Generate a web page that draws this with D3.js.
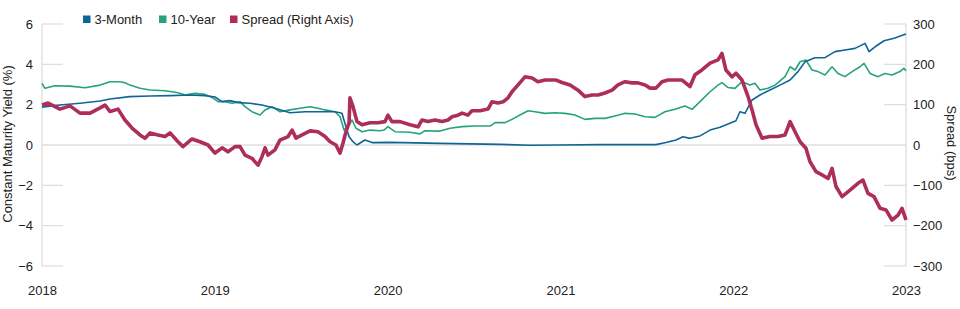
<!DOCTYPE html>
<html>
<head>
<meta charset="utf-8">
<script src="https://cdn.jsdelivr.net/npm/d3@7"></script>
<style>
  html, body { margin: 0; padding: 0; background: #fff; }
  svg { display: block; font-family: "Liberation Sans", Arial, Helvetica, sans-serif; }
</style>
</head>
<body>
<svg id="chart" width="960" height="309"></svg>
<script>
// ---- DATA (t = years since start of 2018) ----
const yearLabels = ["2018", "2019", "2020", "2021", "2022", "2023"];
const yieldTicks = [-6, -4, -2, 0, 2, 4, 6];
const spreadTicks = [-300, -200, -100, 0, 100, 200, 300];
const seriesNames = ["3-Month", "10-Year", "Spread (Right Axis)"];

// 3-Month constant maturity yield (%)
const threeMonth = [
  [0.000,1.88],[0.104,1.98],[0.220,2.07],[0.336,2.18],[0.394,2.28],[0.509,2.40],[0.625,2.43],
  [0.741,2.45],[0.856,2.48],[0.943,2.45],[1.001,2.38],[1.042,2.15],[1.088,2.20],[1.134,2.10],
  [1.204,2.07],[1.273,1.98],[1.348,1.82],[1.435,1.60],[1.522,1.65],[1.609,1.65],[1.696,1.65],
  [1.736,1.57],[1.759,0.91],[1.777,0.41],[1.800,0.16],[1.823,0.00],[1.852,0.16],[1.869,0.25],
  [1.910,0.12],[2.014,0.13],[2.303,0.08],[2.650,0.03],[2.824,-0.01],[2.998,0.00],[3.229,0.02],
  [3.553,0.02],[3.611,0.12],[3.669,0.25],[3.709,0.41],[3.750,0.33],[3.808,0.45],[3.866,0.74],
  [3.924,0.88],[3.981,1.08],[4.016,1.20],[4.039,1.65],[4.068,1.57],[4.109,2.23],[4.155,2.48],
  [4.213,2.73],[4.271,2.97],[4.329,3.22],[4.375,3.64],[4.416,4.13],[4.473,4.33],[4.531,4.33],
  [4.589,4.63],[4.647,4.71],[4.705,4.79],[4.763,5.04],[4.786,4.63],[4.821,4.87],[4.873,5.17],
  [4.931,5.29],[5.000,5.50]
];

// 10-Year constant maturity yield (%)
const tenYear = [
  [0.000,3.06],[0.017,2.81],[0.075,2.94],[0.162,2.92],[0.249,2.84],[0.336,2.97],[0.394,3.14],
  [0.451,3.14],[0.480,3.09],[0.509,2.97],[0.567,2.81],[0.625,2.73],[0.712,2.69],[0.787,2.59],
  [0.828,2.48],[0.885,2.56],[0.943,2.51],[0.984,2.36],[1.019,2.15],[1.059,2.15],[1.100,2.07],
  [1.146,2.15],[1.175,1.90],[1.215,1.65],[1.262,1.49],[1.291,1.74],[1.331,1.90],[1.377,1.65],
  [1.435,1.74],[1.493,1.82],[1.551,1.90],[1.597,1.82],[1.638,1.74],[1.696,1.65],[1.725,1.40],
  [1.748,0.74],[1.777,0.99],[1.794,1.24],[1.817,0.83],[1.852,0.66],[1.898,0.74],[1.956,0.71],
  [1.979,0.74],[2.002,0.91],[2.043,0.66],[2.130,0.63],[2.188,0.55],[2.216,0.71],[2.303,0.69],
  [2.361,0.83],[2.431,0.91],[2.506,0.94],[2.593,0.94],[2.622,1.11],[2.679,1.11],[2.720,1.27],
  [2.766,1.49],[2.813,1.70],[2.853,1.65],[2.911,1.57],[2.969,1.60],[3.027,1.57],[3.084,1.49],
  [3.142,1.27],[3.200,1.32],[3.258,1.32],[3.316,1.44],[3.374,1.57],[3.432,1.54],[3.490,1.40],
  [3.547,1.37],[3.605,1.65],[3.663,1.77],[3.721,1.93],[3.762,1.77],[3.808,2.15],[3.866,2.64],
  [3.912,2.97],[3.935,3.09],[3.970,2.85],[4.010,2.81],[4.051,3.14],[4.097,2.97],[4.126,3.06],
  [4.155,2.73],[4.201,2.81],[4.242,2.97],[4.300,3.39],[4.329,3.88],[4.358,3.72],[4.387,4.13],
  [4.421,4.21],[4.456,3.72],[4.491,3.64],[4.531,3.47],[4.572,3.88],[4.606,3.55],[4.647,3.39],
  [4.688,3.64],[4.734,3.88],[4.757,4.05],[4.792,3.55],[4.838,3.39],[4.878,3.55],[4.919,3.47],
  [4.965,3.64],[4.988,3.80],[5.000,3.68]
];

// Spread, 10-Year minus 3-Month (bps), right axis
const spreadBps = [
  [0.000,99],[0.035,104],[0.104,89],[0.162,97],[0.220,79],[0.278,79],[0.336,92],[0.365,99],
  [0.394,83],[0.440,89],[0.480,62],[0.521,42],[0.567,25],[0.596,17],[0.625,30],[0.671,25],
  [0.712,21],[0.741,30],[0.787,8],[0.816,-4],[0.868,15],[0.914,8],[0.961,0],[1.001,-20],
  [1.042,-7],[1.076,-17],[1.117,-4],[1.146,-4],[1.175,-25],[1.215,-33],[1.250,-50],[1.273,-29],
  [1.291,-7],[1.308,-25],[1.348,-12],[1.377,12],[1.424,21],[1.447,37],[1.470,17],[1.505,25],
  [1.551,35],[1.597,33],[1.638,21],[1.667,8],[1.701,0],[1.725,-20],[1.742,5],[1.759,33],
  [1.777,55],[1.782,117],[1.800,95],[1.823,58],[1.852,50],[1.898,55],[1.944,55],[1.985,58],
  [2.002,74],[2.025,58],[2.072,58],[2.130,50],[2.176,45],[2.199,62],[2.234,58],[2.274,62],
  [2.315,58],[2.350,62],[2.373,70],[2.407,74],[2.431,79],[2.465,74],[2.488,85],[2.535,85],
  [2.581,89],[2.604,107],[2.639,104],[2.668,107],[2.697,117],[2.720,132],[2.755,149],[2.795,169],
  [2.836,166],[2.870,157],[2.911,161],[2.940,161],[2.975,161],[3.009,155],[3.056,149],[3.102,136],
  [3.142,120],[3.183,124],[3.218,124],[3.258,129],[3.299,136],[3.333,149],[3.374,157],[3.414,154],
  [3.449,154],[3.490,149],[3.519,141],[3.553,141],[3.588,157],[3.623,161],[3.663,161],[3.704,161],
  [3.750,145],[3.779,174],[3.819,186],[3.866,203],[3.912,211],[3.935,227],[3.958,186],[3.993,169],
  [4.016,178],[4.051,161],[4.086,120],[4.109,87],[4.132,50],[4.167,17],[4.213,21],[4.259,21],
  [4.300,25],[4.329,58],[4.358,33],[4.387,8],[4.421,-8],[4.444,-41],[4.479,-66],[4.514,-74],
  [4.549,-83],[4.572,-58],[4.595,-103],[4.630,-128],[4.676,-112],[4.722,-95],[4.751,-87],
  [4.780,-120],[4.815,-128],[4.850,-157],[4.884,-161],[4.919,-186],[4.954,-174],[4.977,-157],
  [5.000,-186]
];

const colors = { threeMonth: "#0f6596", tenYear: "#27a27c", spread: "#ad2e5c" };

// ---- CHART ----
const svg = d3.select("#chart");
const L = 42, R = 906, T = 24, B = 266;

const x = d3.scaleLinear().domain([0, 5]).range([L, R]);
const yL = d3.scaleLinear().domain([-6, 6]).range([B, T]);
const yR = d3.scaleLinear().domain([-300, 300]).range([B, T]);

const textColor = "#222";
const gridColor = "#dcdcdc";

// axis frame lines
svg.append("line").attr("x1", L).attr("x2", L).attr("y1", T).attr("y2", B)
  .attr("stroke", "#e2e2e2").attr("stroke-width", 1.5);
svg.append("line").attr("x1", R).attr("x2", R).attr("y1", T).attr("y2", B)
  .attr("stroke", "#e2e2e2").attr("stroke-width", 1.5);

// short grid stubs
svg.append("g").selectAll("line").data(yieldTicks.filter(d => d !== 0)).join("line")
  .attr("x1", L).attr("x2", L + 21).attr("y1", d => yL(d)).attr("y2", d => yL(d))
  .attr("stroke", gridColor).attr("stroke-width", 1.2);
svg.append("g").selectAll("line").data(spreadTicks.filter(d => d !== 0)).join("line")
  .attr("x1", R - 22).attr("x2", R).attr("y1", d => yR(d)).attr("y2", d => yR(d))
  .attr("stroke", gridColor).attr("stroke-width", 1.2);
// zero line
svg.append("line").attr("x1", L).attr("x2", R).attr("y1", yL(0)).attr("y2", yL(0))
  .attr("stroke", "#cfcfcf").attr("stroke-width", 1.2);

// axes
function styleAxis(g) {
  g.select(".domain").remove();
  g.selectAll("text").attr("fill", textColor).attr("font-size", 13)
    .attr("font-family", '"Liberation Sans", Arial, sans-serif');
}
svg.append("g").attr("transform", `translate(${L},0)`)
  .call(d3.axisLeft(yL).tickValues(yieldTicks).tickSize(0).tickPadding(9).tickFormat(d3.format("d")))
  .call(styleAxis);
svg.append("g").attr("transform", `translate(${R},0)`)
  .call(d3.axisRight(yR).tickValues(spreadTicks).tickSize(0).tickPadding(7).tickFormat(d3.format("d")))
  .call(styleAxis);
svg.append("g").attr("transform", `translate(0,${B})`)
  .call(d3.axisBottom(x).tickValues([0, 1, 2, 3, 4, 5]).tickSize(0).tickPadding(20)
    .tickFormat(i => yearLabels[i]))
  .call(styleAxis);

// axis titles
svg.append("text").attr("transform", "translate(12,144) rotate(-90)")
  .attr("text-anchor", "middle").attr("font-size", 13).attr("fill", textColor)
  .text("Constant Maturity Yield (%)");
svg.append("text").attr("transform", "translate(947,143) rotate(90)")
  .attr("text-anchor", "middle").attr("font-size", 13).attr("fill", textColor)
  .text("Spread (bps)");

// lines
const lineL = d3.line().x(d => x(d[0])).y(d => yL(d[1]));
const lineR = d3.line().x(d => x(d[0])).y(d => yR(d[1]));

svg.append("path").datum(tenYear).attr("d", lineL).attr("fill", "none")
  .attr("stroke", colors.tenYear).attr("stroke-width", 1.6).attr("stroke-linejoin", "round");
svg.append("path").datum(threeMonth).attr("d", lineL).attr("fill", "none")
  .attr("stroke", colors.threeMonth).attr("stroke-width", 1.6).attr("stroke-linejoin", "round");
svg.append("path").datum(spreadBps).attr("d", lineR).attr("fill", "none")
  .attr("stroke", colors.spread).attr("stroke-width", 3.6).attr("stroke-linejoin", "round");

// legend
const legendItems = [
  { name: seriesNames[0], color: colors.threeMonth, x: 83 },
  { name: seriesNames[1], color: colors.tenYear, x: 159 },
  { name: seriesNames[2], color: colors.spread, x: 230 }
];
const lg = svg.append("g");
legendItems.forEach(it => {
  lg.append("rect").attr("x", it.x).attr("y", 15.5).attr("width", 7.5).attr("height", 7.5)
    .attr("fill", it.color);
  lg.append("text").attr("x", it.x + 11.5).attr("y", 24).attr("font-size", 13)
    .attr("fill", textColor).text(it.name);
});
</script>
</body>
</html>
